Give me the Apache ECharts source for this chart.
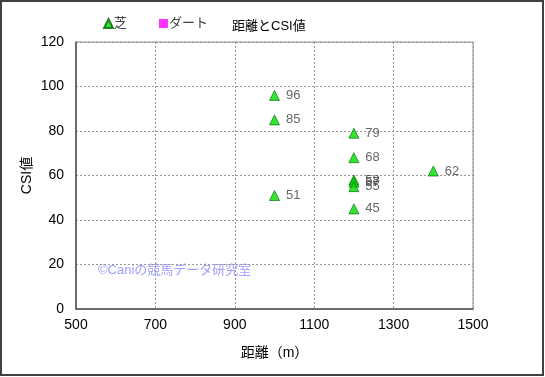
<!DOCTYPE html>
<html>
<head>
<meta charset="utf-8">
<script src="https://cdn.jsdelivr.net/npm/echarts@6/dist/echarts.min.js"></script>
<style>
  html, body { margin: 0; padding: 0; background: #fff; }
  #chart { width: 545px; height: 377px; }
</style>
</head>
<body>
<div id="chart"></div>
<script>
// 芝 data: [距離, CSI値]
var turfDist = [1000, 1000, 1000, 1200, 1200, 1200, 1200, 1200, 1200, 1400]
var turfCsi = [96, 85, 51, 79, 68, 58, 57, 55, 45, 62]
var dirtDist = []
var dirtCsi = []
var xTicks = [500, 700, 900, 1100, 1300, 1500]
var yTicks = [0, 20, 40, 60, 80, 100, 120]

var font = '"Liberation Sans", "Noto Sans CJK JP", sans-serif'

function pairs(xs, ys) {
    var out = []
    for (var i = 0; i < xs.length; i++) out.push([xs[i], ys[i]])
    return out
}

var myChart = echarts.init(document.getElementById('chart'))
var option = {
    animation: false,
    backgroundColor: '#fff',
    textStyle: { fontFamily: font },
    title: {
        text: '距離とCSI値',
        left: 227,
        top: 15,
        textStyle: { fontSize: 13, fontWeight: 'normal', color: '#000', fontFamily: font }
    },
    legend: {
        left: 98,
        top: 12,
        itemWidth: 9,
        itemHeight: 9,
        itemGap: 32,
        textStyle: { fontSize: 13, color: '#404040', padding: [0, 0, 0, -4] },
        data: [
            { name: '芝', icon: 'triangle' },
            { name: 'ダート', icon: 'rect' }
        ]
    },
    grid: { left: 76, right: 72, top: 42, bottom: 68 },
    xAxis: {
        type: 'value',
        min: 500,
        max: 1500,
        interval: 200,
        name: '距離（m）',
        nameLocation: 'middle',
        nameGap: 37,
        nameMoveOverlap: false,
        nameTextStyle: { fontSize: 14, color: '#000' },
        axisLine: { lineStyle: { color: '#555', width: 1.5 } },
        axisTick: { show: false },
        axisLabel: { fontSize: 14, color: '#000', margin: 9, formatter: function(v) { return String(v) } },
        splitLine: { lineStyle: { color: '#999', type: [2, 2] } }
    },
    yAxis: {
        type: 'value',
        min: 0,
        max: 120,
        interval: 20,
        name: 'CSI値',
        nameLocation: 'middle',
        nameGap: 42,
        nameMoveOverlap: false,
        nameTextStyle: { fontSize: 14, color: '#000' },
        axisLine: { show: true, lineStyle: { color: '#555', width: 1.5 } },
        axisTick: { show: false },
        axisLabel: { fontSize: 14, color: '#000', margin: 12 },
        splitLine: { lineStyle: { color: '#999', type: [2, 2] } }
    },
    series: [{
        name: '芝',
        type: 'scatter',
        symbol: 'triangle',
        symbolSize: 10,
        itemStyle: { color: '#00dd00', borderColor: '#006600', borderWidth: 0.8 },
        label: {
            show: true,
            position: 'right',
            distance: 6,
            fontSize: 13,
            color: '#404040',
            formatter: function(p) { return p.value[1] }
        },
        data: pairs(turfDist, turfCsi)
    }, {
        name: 'ダート',
        type: 'scatter',
        symbol: 'rect',
        symbolSize: 9,
        itemStyle: { color: '#ff00ff' },
        data: pairs(dirtDist, dirtCsi)
    }],
    graphic: [{
        type: 'rect',
        shape: { x: 1, y: 1, width: 542, height: 374 },
        style: { fill: 'none', stroke: '#404040', lineWidth: 2 },
        silent: true
    }, {
        type: 'rect',
        shape: { x: 76, y: 42, width: 397, height: 267 },
        style: { fill: 'none', stroke: '#888', lineWidth: 1 },
        silent: true
    }, {
        type: 'text',
        left: 98,
        top: 264,
        style: { text: '©Caniの競馬データ研究室', fill: '#a0a0ff', font: '13px ' + font }
    }]
}
myChart.setOption(option)
</script>
</body>
</html>
